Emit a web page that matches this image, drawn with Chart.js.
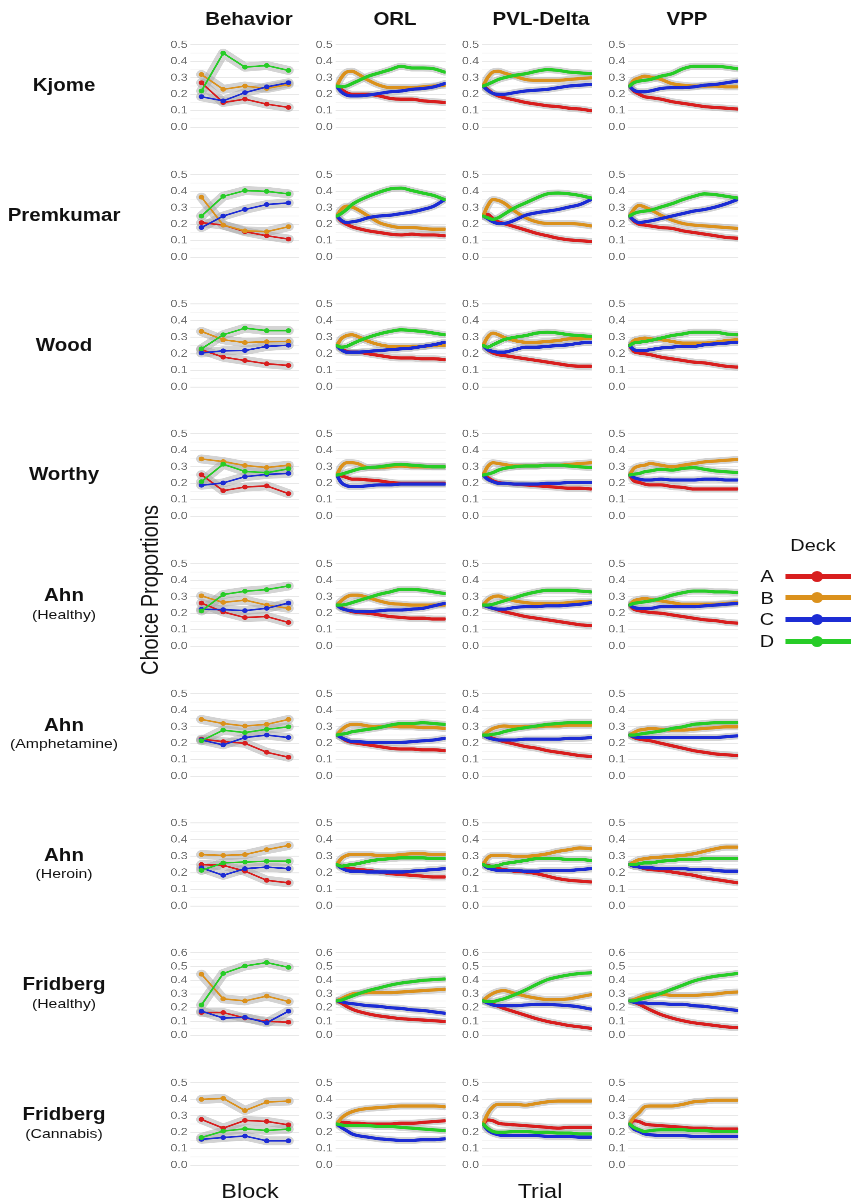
<!DOCTYPE html>
<html>
<head>
<meta charset="utf-8">
<script src="https://cdn.jsdelivr.net/npm/chart.js@4.4.1/dist/chart.umd.min.js"></script>
<style>
  body { margin: 0; background: #fff; overflow: hidden; }
  #page {
    position: absolute; left: 0; top: 0; width: 727px; height: 1203px;
    transform-origin: 0 0; transform: scaleX(1.1706);
    font-family: "Liberation Sans", Arial, Helvetica, sans-serif; color: #111;
  }
  .panel { position: absolute; }
  .txt { position: absolute; white-space: nowrap; line-height: 1; }
</style>
</head>
<body>
<div id="page"></div>
<script>
// ---- labels ----
const panelNames = ['Behavior', 'ORL', 'PVL-Delta', 'VPP']
const studies = ['Kjome', 'Premkumar', 'Wood', 'Worthy', 'Ahn', 'Ahn', 'Ahn', 'Fridberg', 'Fridberg']
const groups = ['', '', '', '', '(Healthy)', '(Amphetamine)', '(Heroin)', '(Healthy)', '(Cannabis)']
const decks = ['A', 'B', 'C', 'D']
const yTickMax = [0.5, 0.5, 0.5, 0.5, 0.5, 0.5, 0.5, 0.6, 0.5]

// x values
const blocks = [1, 2, 3, 4, 5]
const trials = [1, 5, 10, 15, 20, 30, 40, 50, 60, 70, 80, 90, 100]

// ---- data: [A, B, C, D] per panel ----
const kjomeBehavior = [
  [0.27, 0.15, 0.17, 0.14, 0.12],
  [0.32, 0.23, 0.25, 0.235, 0.26],
  [0.185, 0.16, 0.21, 0.245, 0.27],
  [0.22, 0.45, 0.365, 0.375, 0.345]
]
const kjomeORL = [
  [0.25, 0.23, 0.21, 0.20, 0.20, 0.20, 0.19, 0.175, 0.17, 0.17, 0.16, 0.155, 0.15],
  [0.25, 0.30, 0.335, 0.34, 0.325, 0.285, 0.255, 0.24, 0.24, 0.24, 0.245, 0.25, 0.255],
  [0.25, 0.215, 0.195, 0.19, 0.19, 0.195, 0.205, 0.215, 0.22, 0.23, 0.235, 0.245, 0.265],
  [0.25, 0.245, 0.25, 0.265, 0.28, 0.31, 0.33, 0.35, 0.37, 0.36, 0.36, 0.355, 0.335]
]
const kjomePVL = [
  [0.25, 0.23, 0.205, 0.19, 0.18, 0.165, 0.15, 0.14, 0.13, 0.125, 0.115, 0.11, 0.10],
  [0.25, 0.30, 0.335, 0.34, 0.33, 0.31, 0.29, 0.285, 0.285, 0.285, 0.29, 0.295, 0.30],
  [0.25, 0.225, 0.205, 0.20, 0.20, 0.21, 0.22, 0.225, 0.23, 0.24, 0.25, 0.255, 0.26],
  [0.25, 0.26, 0.275, 0.29, 0.30, 0.315, 0.325, 0.34, 0.35, 0.345, 0.335, 0.33, 0.325]
]
const kjomeVPP = [
  [0.25, 0.22, 0.20, 0.185, 0.18, 0.17, 0.155, 0.145, 0.135, 0.125, 0.12, 0.115, 0.11],
  [0.25, 0.285, 0.30, 0.31, 0.305, 0.29, 0.265, 0.255, 0.25, 0.25, 0.25, 0.245, 0.245],
  [0.25, 0.225, 0.215, 0.215, 0.22, 0.235, 0.24, 0.24, 0.245, 0.255, 0.26, 0.27, 0.28],
  [0.25, 0.27, 0.28, 0.285, 0.29, 0.31, 0.325, 0.355, 0.37, 0.37, 0.37, 0.365, 0.355]
]

const premBehavior = [
  [0.21, 0.195, 0.155, 0.13, 0.11],
  [0.365, 0.195, 0.16, 0.155, 0.185],
  [0.18, 0.25, 0.29, 0.32, 0.33],
  [0.25, 0.37, 0.405, 0.40, 0.385]
]
const premORL = [
  [0.25, 0.22, 0.20, 0.185, 0.175, 0.16, 0.15, 0.14, 0.135, 0.14, 0.135, 0.135, 0.13],
  [0.25, 0.29, 0.31, 0.305, 0.29, 0.25, 0.21, 0.19, 0.18, 0.18, 0.175, 0.17, 0.17],
  [0.25, 0.225, 0.21, 0.215, 0.22, 0.24, 0.25, 0.255, 0.265, 0.275, 0.29, 0.31, 0.35],
  [0.25, 0.265, 0.29, 0.32, 0.34, 0.37, 0.395, 0.415, 0.42, 0.405, 0.39, 0.375, 0.35]
]
const premPVL = [
  [0.25, 0.26, 0.235, 0.215, 0.205, 0.185, 0.165, 0.145, 0.13, 0.115, 0.105, 0.10, 0.095],
  [0.25, 0.31, 0.35, 0.345, 0.33, 0.28, 0.24, 0.215, 0.205, 0.205, 0.205, 0.20, 0.19],
  [0.25, 0.235, 0.215, 0.205, 0.205, 0.225, 0.255, 0.27, 0.28, 0.29, 0.305, 0.32, 0.35],
  [0.25, 0.24, 0.23, 0.24, 0.26, 0.30, 0.33, 0.36, 0.385, 0.39, 0.385, 0.375, 0.36]
]
const premVPP = [
  [0.25, 0.22, 0.20, 0.195, 0.19, 0.18, 0.175, 0.16, 0.15, 0.14, 0.13, 0.12, 0.115],
  [0.25, 0.29, 0.315, 0.305, 0.29, 0.255, 0.225, 0.205, 0.195, 0.19, 0.185, 0.18, 0.175],
  [0.25, 0.225, 0.21, 0.215, 0.22, 0.235, 0.25, 0.265, 0.28, 0.29, 0.305, 0.325, 0.35],
  [0.25, 0.265, 0.275, 0.28, 0.285, 0.305, 0.325, 0.35, 0.37, 0.385, 0.38, 0.37, 0.36]
]

const woodBehavior = [
  [0.225, 0.18, 0.16, 0.14, 0.13],
  [0.335, 0.285, 0.268, 0.273, 0.275],
  [0.205, 0.218, 0.22, 0.245, 0.252],
  [0.23, 0.315, 0.355, 0.34, 0.34]
]
const woodORL = [
  [0.25, 0.23, 0.215, 0.21, 0.21, 0.20, 0.19, 0.18, 0.175, 0.175, 0.17, 0.17, 0.165],
  [0.25, 0.29, 0.31, 0.315, 0.305, 0.275, 0.255, 0.245, 0.245, 0.245, 0.245, 0.25, 0.25],
  [0.25, 0.225, 0.21, 0.21, 0.21, 0.215, 0.22, 0.225, 0.23, 0.235, 0.245, 0.255, 0.27],
  [0.25, 0.24, 0.245, 0.26, 0.275, 0.30, 0.32, 0.335, 0.345, 0.34, 0.335, 0.325, 0.315]
]
const woodPVL = [
  [0.25, 0.225, 0.205, 0.195, 0.19, 0.18, 0.17, 0.16, 0.15, 0.14, 0.13, 0.125, 0.125],
  [0.25, 0.30, 0.325, 0.315, 0.30, 0.28, 0.27, 0.27, 0.275, 0.28, 0.29, 0.29, 0.295],
  [0.25, 0.225, 0.215, 0.21, 0.21, 0.225, 0.24, 0.24, 0.245, 0.25, 0.255, 0.265, 0.27],
  [0.25, 0.24, 0.255, 0.27, 0.285, 0.30, 0.31, 0.325, 0.33, 0.325, 0.315, 0.31, 0.305]
]
const woodVPP = [
  [0.25, 0.215, 0.205, 0.20, 0.195, 0.18, 0.17, 0.16, 0.15, 0.145, 0.135, 0.125, 0.12],
  [0.25, 0.28, 0.29, 0.295, 0.29, 0.285, 0.275, 0.265, 0.265, 0.265, 0.27, 0.28, 0.285],
  [0.25, 0.225, 0.22, 0.22, 0.225, 0.235, 0.24, 0.245, 0.245, 0.255, 0.26, 0.265, 0.27],
  [0.25, 0.265, 0.27, 0.275, 0.28, 0.295, 0.31, 0.32, 0.33, 0.33, 0.33, 0.32, 0.315]
]

const worthyBehavior = [
  [0.252, 0.155, 0.177, 0.184, 0.137],
  [0.348, 0.332, 0.308, 0.296, 0.31],
  [0.188, 0.202, 0.24, 0.254, 0.26],
  [0.21, 0.316, 0.272, 0.264, 0.288]
]
const worthyORL = [
  [0.25, 0.245, 0.235, 0.225, 0.225, 0.22, 0.215, 0.205, 0.20, 0.20, 0.20, 0.20, 0.20],
  [0.25, 0.30, 0.325, 0.325, 0.32, 0.295, 0.295, 0.30, 0.305, 0.30, 0.30, 0.30, 0.30],
  [0.25, 0.205, 0.185, 0.18, 0.18, 0.185, 0.19, 0.19, 0.195, 0.195, 0.195, 0.195, 0.195],
  [0.25, 0.255, 0.265, 0.275, 0.285, 0.295, 0.30, 0.31, 0.315, 0.31, 0.305, 0.30, 0.30]
]
const worthyPVL = [
  [0.25, 0.235, 0.215, 0.205, 0.20, 0.195, 0.19, 0.185, 0.18, 0.175, 0.17, 0.17, 0.165],
  [0.25, 0.30, 0.325, 0.32, 0.315, 0.305, 0.305, 0.305, 0.31, 0.31, 0.315, 0.32, 0.325],
  [0.25, 0.225, 0.21, 0.20, 0.20, 0.195, 0.195, 0.195, 0.20, 0.20, 0.205, 0.205, 0.205],
  [0.25, 0.255, 0.265, 0.28, 0.29, 0.30, 0.305, 0.305, 0.31, 0.31, 0.305, 0.30, 0.295]
]
const worthyVPP = [
  [0.25, 0.215, 0.205, 0.195, 0.19, 0.19, 0.18, 0.175, 0.165, 0.165, 0.165, 0.165, 0.165],
  [0.25, 0.29, 0.305, 0.31, 0.32, 0.31, 0.30, 0.31, 0.32, 0.33, 0.335, 0.34, 0.345],
  [0.25, 0.235, 0.225, 0.22, 0.22, 0.225, 0.22, 0.22, 0.22, 0.225, 0.225, 0.22, 0.22],
  [0.25, 0.255, 0.26, 0.27, 0.275, 0.285, 0.28, 0.29, 0.295, 0.285, 0.275, 0.27, 0.265]
]

const ahnHealthyBehavior = [
  [0.262, 0.208, 0.174, 0.18, 0.144],
  [0.306, 0.266, 0.28, 0.25, 0.23],
  [0.224, 0.222, 0.216, 0.23, 0.262],
  [0.214, 0.314, 0.334, 0.344, 0.366]
]
const ahnHealthyORL = [
  [0.25, 0.235, 0.22, 0.21, 0.205, 0.20, 0.19, 0.18, 0.175, 0.17, 0.17, 0.165, 0.165],
  [0.25, 0.275, 0.30, 0.31, 0.31, 0.295, 0.275, 0.26, 0.255, 0.25, 0.25, 0.25, 0.25],
  [0.25, 0.23, 0.22, 0.215, 0.21, 0.21, 0.215, 0.22, 0.22, 0.225, 0.23, 0.245, 0.26],
  [0.25, 0.25, 0.255, 0.265, 0.275, 0.295, 0.315, 0.33, 0.345, 0.345, 0.34, 0.33, 0.32]
]
const ahnHealthyPVL = [
  [0.25, 0.24, 0.23, 0.22, 0.21, 0.195, 0.18, 0.17, 0.16, 0.15, 0.14, 0.13, 0.125],
  [0.25, 0.28, 0.30, 0.305, 0.295, 0.275, 0.265, 0.26, 0.26, 0.26, 0.265, 0.27, 0.27],
  [0.25, 0.24, 0.23, 0.225, 0.225, 0.235, 0.24, 0.24, 0.245, 0.245, 0.25, 0.255, 0.265],
  [0.25, 0.25, 0.255, 0.265, 0.275, 0.295, 0.315, 0.33, 0.34, 0.34, 0.34, 0.335, 0.33]
]
const ahnHealthyVPP = [
  [0.25, 0.225, 0.215, 0.21, 0.205, 0.20, 0.19, 0.18, 0.17, 0.16, 0.155, 0.145, 0.14],
  [0.25, 0.275, 0.285, 0.29, 0.285, 0.275, 0.265, 0.255, 0.255, 0.255, 0.255, 0.26, 0.265],
  [0.25, 0.235, 0.23, 0.23, 0.23, 0.24, 0.24, 0.24, 0.24, 0.245, 0.25, 0.255, 0.26],
  [0.25, 0.26, 0.265, 0.27, 0.275, 0.29, 0.31, 0.325, 0.335, 0.335, 0.33, 0.33, 0.325]
]

const ahnAmphBehavior = [
  [0.225, 0.21, 0.20, 0.145, 0.115],
  [0.345, 0.32, 0.305, 0.315, 0.345],
  [0.22, 0.19, 0.235, 0.25, 0.235],
  [0.215, 0.28, 0.265, 0.285, 0.30]
]
const ahnAmphORL = [
  [0.25, 0.235, 0.215, 0.205, 0.20, 0.19, 0.18, 0.17, 0.165, 0.165, 0.16, 0.16, 0.155],
  [0.25, 0.28, 0.305, 0.315, 0.315, 0.305, 0.30, 0.305, 0.30, 0.30, 0.295, 0.295, 0.29],
  [0.25, 0.235, 0.22, 0.21, 0.21, 0.205, 0.205, 0.205, 0.205, 0.21, 0.215, 0.22, 0.23],
  [0.25, 0.255, 0.26, 0.27, 0.275, 0.285, 0.295, 0.31, 0.32, 0.32, 0.325, 0.32, 0.315]
]
const ahnAmphPVL = [
  [0.25, 0.24, 0.23, 0.22, 0.21, 0.195, 0.18, 0.17, 0.155, 0.145, 0.135, 0.125, 0.12],
  [0.25, 0.27, 0.29, 0.30, 0.305, 0.30, 0.30, 0.30, 0.305, 0.305, 0.31, 0.31, 0.31],
  [0.25, 0.235, 0.225, 0.22, 0.22, 0.22, 0.225, 0.225, 0.225, 0.225, 0.23, 0.23, 0.235],
  [0.25, 0.25, 0.255, 0.26, 0.27, 0.285, 0.295, 0.305, 0.315, 0.32, 0.325, 0.325, 0.325]
]
const ahnAmphVPP = [
  [0.25, 0.235, 0.225, 0.22, 0.215, 0.20, 0.185, 0.17, 0.155, 0.145, 0.135, 0.13, 0.125],
  [0.25, 0.265, 0.28, 0.285, 0.29, 0.285, 0.28, 0.28, 0.285, 0.29, 0.295, 0.30, 0.30],
  [0.25, 0.24, 0.235, 0.235, 0.235, 0.235, 0.235, 0.235, 0.235, 0.235, 0.235, 0.24, 0.245],
  [0.25, 0.25, 0.255, 0.26, 0.265, 0.275, 0.29, 0.30, 0.315, 0.32, 0.325, 0.325, 0.325]
]

const ahnHeroinBehavior = [
  [0.25, 0.245, 0.21, 0.155, 0.14],
  [0.31, 0.305, 0.31, 0.34, 0.365],
  [0.23, 0.185, 0.225, 0.235, 0.225],
  [0.215, 0.26, 0.265, 0.27, 0.27]
]
const ahnHeroinORL = [
  [0.25, 0.24, 0.23, 0.225, 0.22, 0.215, 0.205, 0.195, 0.19, 0.185, 0.18, 0.175, 0.175],
  [0.25, 0.285, 0.305, 0.31, 0.31, 0.31, 0.305, 0.305, 0.31, 0.315, 0.315, 0.31, 0.31],
  [0.25, 0.23, 0.215, 0.21, 0.21, 0.205, 0.205, 0.205, 0.205, 0.21, 0.215, 0.22, 0.225],
  [0.25, 0.24, 0.245, 0.25, 0.255, 0.27, 0.28, 0.285, 0.29, 0.29, 0.29, 0.285, 0.285]
]
const ahnHeroinPVL = [
  [0.25, 0.245, 0.235, 0.225, 0.22, 0.21, 0.205, 0.195, 0.18, 0.165, 0.155, 0.15, 0.145],
  [0.25, 0.29, 0.305, 0.305, 0.305, 0.30, 0.30, 0.305, 0.315, 0.33, 0.34, 0.35, 0.345],
  [0.25, 0.23, 0.22, 0.215, 0.215, 0.215, 0.21, 0.21, 0.215, 0.215, 0.215, 0.22, 0.225],
  [0.25, 0.24, 0.24, 0.245, 0.255, 0.265, 0.275, 0.285, 0.285, 0.285, 0.28, 0.28, 0.275]
]
const ahnHeroinVPP = [
  [0.25, 0.24, 0.235, 0.225, 0.22, 0.215, 0.205, 0.195, 0.185, 0.17, 0.16, 0.15, 0.14],
  [0.25, 0.265, 0.28, 0.285, 0.29, 0.295, 0.30, 0.305, 0.315, 0.33, 0.345, 0.355, 0.355],
  [0.25, 0.24, 0.235, 0.23, 0.23, 0.225, 0.225, 0.225, 0.22, 0.22, 0.215, 0.21, 0.21],
  [0.25, 0.25, 0.255, 0.26, 0.26, 0.27, 0.275, 0.28, 0.28, 0.285, 0.285, 0.285, 0.285]
]

const fridHealthyBehavior = [
  [0.165, 0.165, 0.125, 0.10, 0.095],
  [0.445, 0.265, 0.25, 0.285, 0.245],
  [0.175, 0.125, 0.13, 0.09, 0.175],
  [0.22, 0.45, 0.505, 0.53, 0.495]
]
const fridHealthyORL = [
  [0.25, 0.235, 0.21, 0.19, 0.175, 0.155, 0.14, 0.13, 0.12, 0.115, 0.11, 0.105, 0.10],
  [0.25, 0.265, 0.285, 0.30, 0.305, 0.31, 0.31, 0.31, 0.315, 0.32, 0.325, 0.33, 0.335],
  [0.25, 0.245, 0.235, 0.23, 0.225, 0.215, 0.21, 0.20, 0.195, 0.185, 0.18, 0.17, 0.16],
  [0.25, 0.255, 0.27, 0.285, 0.30, 0.325, 0.345, 0.365, 0.38, 0.39, 0.40, 0.405, 0.41]
]
const fridHealthyPVL = [
  [0.25, 0.24, 0.225, 0.21, 0.195, 0.17, 0.145, 0.12, 0.10, 0.085, 0.07, 0.06, 0.05],
  [0.25, 0.28, 0.305, 0.32, 0.325, 0.305, 0.285, 0.27, 0.26, 0.26, 0.265, 0.28, 0.295],
  [0.25, 0.235, 0.22, 0.215, 0.215, 0.215, 0.22, 0.225, 0.225, 0.22, 0.215, 0.205, 0.19],
  [0.25, 0.245, 0.245, 0.255, 0.265, 0.295, 0.33, 0.37, 0.405, 0.425, 0.44, 0.45, 0.455]
]
const fridHealthyVPP = [
  [0.25, 0.24, 0.225, 0.205, 0.185, 0.15, 0.125, 0.105, 0.09, 0.08, 0.07, 0.06, 0.055],
  [0.25, 0.26, 0.275, 0.29, 0.30, 0.30, 0.29, 0.29, 0.29, 0.295, 0.30, 0.31, 0.315],
  [0.25, 0.24, 0.235, 0.235, 0.23, 0.23, 0.225, 0.225, 0.215, 0.21, 0.20, 0.19, 0.18],
  [0.25, 0.25, 0.26, 0.27, 0.28, 0.305, 0.335, 0.365, 0.395, 0.415, 0.43, 0.44, 0.45]
]

const fridCannabisBehavior = [
  [0.278, 0.225, 0.272, 0.266, 0.245],
  [0.40, 0.406, 0.332, 0.384, 0.39],
  [0.157, 0.168, 0.177, 0.148, 0.148],
  [0.168, 0.207, 0.221, 0.211, 0.219]
]
const fridCannabisORL = [
  [0.25, 0.26, 0.26, 0.255, 0.255, 0.25, 0.25, 0.25, 0.255, 0.255, 0.26, 0.265, 0.27],
  [0.25, 0.285, 0.31, 0.325, 0.335, 0.345, 0.35, 0.355, 0.36, 0.36, 0.36, 0.36, 0.355],
  [0.25, 0.23, 0.21, 0.19, 0.18, 0.17, 0.16, 0.155, 0.15, 0.15, 0.155, 0.155, 0.16],
  [0.25, 0.245, 0.24, 0.24, 0.24, 0.24, 0.235, 0.235, 0.23, 0.225, 0.22, 0.215, 0.21]
]
const fridCannabisPVL = [
  [0.25, 0.275, 0.27, 0.255, 0.25, 0.245, 0.24, 0.235, 0.23, 0.225, 0.23, 0.23, 0.23],
  [0.25, 0.31, 0.355, 0.37, 0.37, 0.37, 0.365, 0.375, 0.385, 0.39, 0.39, 0.39, 0.39],
  [0.25, 0.215, 0.195, 0.185, 0.18, 0.18, 0.18, 0.18, 0.175, 0.175, 0.175, 0.17, 0.17],
  [0.25, 0.225, 0.205, 0.20, 0.20, 0.205, 0.205, 0.20, 0.20, 0.195, 0.195, 0.19, 0.19]
]
const fridCannabisVPP = [
  [0.25, 0.27, 0.265, 0.25, 0.245, 0.24, 0.235, 0.23, 0.225, 0.225, 0.22, 0.22, 0.22],
  [0.25, 0.29, 0.32, 0.355, 0.36, 0.36, 0.36, 0.37, 0.385, 0.39, 0.395, 0.395, 0.395],
  [0.25, 0.22, 0.205, 0.19, 0.185, 0.18, 0.18, 0.18, 0.175, 0.175, 0.175, 0.175, 0.175],
  [0.25, 0.23, 0.215, 0.205, 0.21, 0.215, 0.215, 0.215, 0.21, 0.21, 0.205, 0.205, 0.205]
]

const rows = [
  [kjomeBehavior, kjomeORL, kjomePVL, kjomeVPP],
  [premBehavior, premORL, premPVL, premVPP],
  [woodBehavior, woodORL, woodPVL, woodVPP],
  [worthyBehavior, worthyORL, worthyPVL, worthyVPP],
  [ahnHealthyBehavior, ahnHealthyORL, ahnHealthyPVL, ahnHealthyVPP],
  [ahnAmphBehavior, ahnAmphORL, ahnAmphPVL, ahnAmphVPP],
  [ahnHeroinBehavior, ahnHeroinORL, ahnHeroinPVL, ahnHeroinVPP],
  [fridHealthyBehavior, fridHealthyORL, fridHealthyPVL, fridHealthyVPP],
  [fridCannabisBehavior, fridCannabisORL, fridCannabisPVL, fridCannabisVPP]
]

// ---- look ----
const deckColors = ['#d81e1e', '#db911c', '#1c2cd4', '#27cc27']
const ribbonColor = 'rgba(170,170,170,0.5)'
const SX = 851 / 727          // the whole figure is a bit wider than tall
const colLeft = [190, 336, 482, 628]   // plot-area left edges (page px)
const plotW = 114
const gutter = 22             // room for tick labels
const pad = 8

Chart.defaults.font.family = '"Liberation Sans", Arial, Helvetica, sans-serif'

const page = document.getElementById('page')

function text(str, x, y, css) {
  const d = document.createElement('div')
  d.className = 'txt'
  d.textContent = str
  d.style.left = x / SX + 'px'
  d.style.top = y + 'px'
  d.style.transform = 'translate(-50%,-50%)'
  if (css) d.style.cssText += css
  page.appendChild(d)
  return d
}

const isMajor = (v) => Math.abs(v * 10 - Math.round(v * 10)) < 1e-6

function makePanel(r, c, series) {
  const ymax = yTickMax[r]
  const zeroY = 128 + 129.75 * r
  const span = 84
  const ext = span * 0.05
  const unit = ymax / span
  const plotTop = zeroY - span - ext

  const wrap = document.createElement('div')
  wrap.className = 'panel'
  wrap.style.left = (colLeft[c] - gutter) / SX + 'px'
  wrap.style.top = plotTop - pad + 'px'
  wrap.style.width = (gutter + plotW) / SX + 'px'
  wrap.style.height = span + 2 * ext + 2 * pad + 'px'
  const cv = document.createElement('canvas')
  wrap.appendChild(cv)
  page.appendChild(wrap)

  const beh = c === 0
  const xs = beh ? blocks : trials
  const datasets = []
  series.forEach((vals, k) => {
    const pts = vals.map((v, i) => ({ x: xs[i], y: v }))
    // grey band underneath
    datasets.push({
      data: pts, borderColor: ribbonColor, borderWidth: beh ? 9 : 7,
      pointRadius: 0, order: 10, cubicInterpolationMode: beh ? 'default' : 'monotone',
      borderCapStyle: 'round', borderJoinStyle: 'round'
    })
    datasets.push({
      label: decks[k], data: pts,
      borderColor: deckColors[k], backgroundColor: deckColors[k],
      borderWidth: beh ? 1.6 : 3.2, pointRadius: beh ? 2.4 : 0, pointBorderWidth: 0,
      order: 4 - k, cubicInterpolationMode: beh ? 'default' : 'monotone',
      borderCapStyle: 'round', borderJoinStyle: 'round'
    })
  })

  const tickVals = []
  for (let i = 0; i <= Math.round(ymax / 0.05); i++) tickVals.push(Math.round(i * 5) / 100)

  new Chart(cv, {
    type: 'line',
    data: { datasets },
    options: {
      animation: false,
      responsive: true,
      maintainAspectRatio: false,
      devicePixelRatio: 3,
      events: [],
      layout: { padding: { top: pad, bottom: pad, left: 0, right: 0 } },
      plugins: { legend: { display: false }, tooltip: { enabled: false } },
      scales: {
        x: { type: 'linear', display: false, min: beh ? 0.5 : 0, max: beh ? 5.5 : 101 },
        y: {
          min: -ext * unit,
          max: ymax + ext * unit,
          afterFit: (a) => { a.width = gutter / SX },
          afterBuildTicks: (a) => { a.ticks = tickVals.map((v) => ({ value: v })) },
          border: { display: false },
          grid: {
            drawTicks: false,
            color: (ctx) => (ctx.tick && isMajor(ctx.tick.value) ? '#e8e8e8' : '#f2f2f2'),
            lineWidth: (ctx) => (ctx.tick && isMajor(ctx.tick.value) ? 1 : 0.7)
          },
          ticks: {
            autoSkip: false,
            padding: 3 / SX,
            color: '#6e6e6e',
            font: { size: 10.5 },
            callback: (v) => (isMajor(v) ? v.toFixed(1) : '')
          }
        }
      }
    }
  })
}

rows.forEach((row, r) => row.forEach((series, c) => makePanel(r, c, series)))

// column titles
panelNames.forEach((name, c) => {
  text(name, colLeft[c] + plotW / 2 + 2, 20, 'font-weight:bold;font-size:17.5px;')
})

// row titles
studies.forEach((s, r) => {
  const mid = 128 + 129.75 * r - 42
  if (groups[r]) {
    text(s, 64, mid - 9, 'font-weight:bold;font-size:17.5px;')
    text(groups[r], 64, mid + 9.5, 'font-size:13.5px;')
  } else {
    text(s, 64, mid, 'font-weight:bold;font-size:17.5px;')
  }
})

// axis titles
text('Choice Proportions', 150, 590, 'font-size:20px;transform:translate(-50%,-50%) rotate(-90deg);')
text('Block', 250, 1191, 'font-size:20px;')
text('Trial', 540, 1191, 'font-size:20px;')

// legend
text('Deck', 813, 545, 'font-size:17px;')
decks.forEach((d, k) => {
  const y = 576 + k * 21.7
  text(d, 767, y, 'font-size:17px;')
  const line = document.createElement('div')
  line.style.cssText = `position:absolute;left:${785 / SX}px;top:${y - 2.5}px;width:${(851 - 785) / SX}px;height:5px;background:${deckColors[k]};`
  page.appendChild(line)
  const dot = document.createElement('div')
  dot.style.cssText = `position:absolute;left:${817 / SX - 5}px;top:${y - 5.5}px;width:10px;height:11px;border-radius:50%;background:${deckColors[k]};`
  page.appendChild(dot)
})
</script>
</body>
</html>
